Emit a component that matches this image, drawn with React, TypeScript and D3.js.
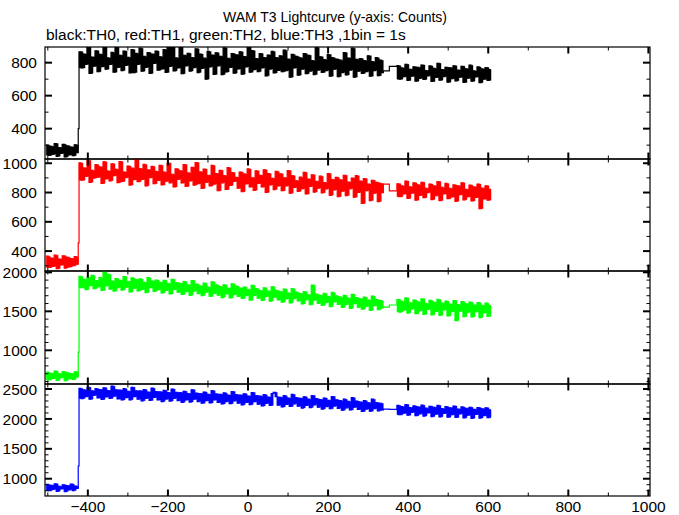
import React from 'react';
import * as d3 from 'd3';

const TITLE = 'WAM T3 Lightcurve (y-axis: Counts)';
const SUBTITLE = 'black:TH0, red:TH1, green:TH2, blue:TH3 ,1bin = 1s';

const X_DOMAIN: [number, number] = [-507, 1004];
const X_MAJOR = [-400, -200, 0, 200, 400, 600, 800, 1000];
const X_MINOR = [-500, -300, -100, 100, 300, 500, 700, 900];

// time layout of the bins (seconds)
const PRE_START = -504;
const SPIKE_START = -424;
const MAIN_START = -422;
const GAP_TIMES = [338, 353];
const POST_START = 372;
const BIN = 5;

// ---- TH0 (black)
const th0Pre = [300, 238, 292, 245, 310, 232, 285, 250, 305, 228, 296, 241, 288, 236, 302, 255];
const th0Spike = 400;
const th0Main = [
  866, 768, 852, 790, 898, 735, 834, 779, 872, 745,
  851, 776, 905, 760, 829, 789, 862, 742, 893, 771,
  845, 752, 870, 784, 832, 738, 879, 740, 856, 790,
  888, 748, 838, 772, 861, 735, 852, 795, 870, 754,
  836, 762, 879, 741, 900, 778, 895, 750, 829, 768,
  910, 733, 845, 781, 857, 749, 831, 770, 884, 740,
  852, 766, 827, 700, 868, 775, 846, 729, 860, 781,
  839, 728, 890, 744, 826, 771, 855, 736, 848, 762,
  866, 730, 837, 775, 905, 742, 873, 758, 825, 746,
  855, 769, 831, 720, 846, 761, 868, 738, 830, 753,
  842, 745, 876, 752, 821, 712, 850, 768, 838, 724,
  829, 760, 855, 733, 845, 749, 812, 728, 892, 755,
  836, 741, 818, 752, 849, 718, 830, 760, 822, 715,
  815, 740, 861, 726, 828, 755, 888, 712, 820, 748,
  825, 735, 812, 746, 842, 718, 806, 752, 830, 721, 815, 740,
];
const th0Gap = [750, 778];
const th0Post = [
  782, 700, 768, 715, 790, 692, 760, 718, 775, 688, 771, 705, 786, 698, 752, 720,
  780, 686, 765, 710, 796, 694, 758, 716, 772, 682, 769, 703, 781, 690, 755, 712,
  778, 680, 763, 706, 785, 688, 750, 714, 774, 679, 762, 700, 770, 692, 758,
];

// ---- TH1 (red)
const th1Pre = [365, 288, 352, 296, 372, 280, 346, 305, 368, 284, 358, 292, 349, 300, 362, 310];
const th1Spike = 456;
const th1Main = [
  1002, 884, 968, 911, 1020, 870, 951, 899, 990, 905,
  975, 862, 1010, 893, 947, 880, 996, 915, 958, 868,
  1012, 876, 940, 902, 981, 851, 966, 888, 1030, 874,
  963, 889, 992, 846, 955, 901, 978, 860, 944, 883,
  986, 852, 939, 877, 1001, 866, 925, 838, 962, 890,
  948, 865, 991, 842, 934, 879, 972, 851, 1005, 860,
  941, 828, 960, 870, 918, 845, 985, 858, 930, 812,
  952, 866, 915, 821, 970, 848, 936, 876, 904, 830,
  940, 806, 927, 859, 961, 838, 901, 815, 948, 862,
  918, 838, 955, 801, 930, 852, 897, 820, 944, 845,
  928, 812, 901, 846, 950, 795, 915, 835, 880, 808,
  905, 826, 938, 790, 892, 842, 921, 803, 877, 830,
  912, 798, 868, 825, 930, 781, 889, 818, 904, 772,
  887, 809, 918, 779, 872, 826, 899, 768, 915, 801,
  878, 725, 895, 812, 858, 745, 884, 795, 870, 738, 862, 800,
];
const th1Gap = [857, 811];
const th1Post = [
  860, 772, 845, 790, 878, 760, 838, 795, 866, 748, 852, 781, 870, 765, 829, 800,
  858, 752, 846, 778, 875, 745, 835, 790, 862, 758, 828, 770, 852, 740, 845, 785,
  866, 750, 822, 772, 850, 742, 838, 766, 858, 690, 830, 756, 846, 748, 822,
];

// ---- TH2 (green)
const th2Pre = [720, 622, 705, 640, 735, 615, 698, 650, 728, 610, 712, 635, 701, 628, 724, 660];
const th2Spike = 978;
const th2Main = [
  1948, 1802, 1911, 1779, 1936, 1828, 1960, 1791, 1894, 1812,
  1931, 1768, 2010, 1826, 1975, 1783, 1887, 1759, 1920, 1804,
  1896, 1772, 1945, 1810, 1881, 1748, 1928, 1795, 1907, 1762,
  1915, 1781, 1870, 1740, 1932, 1802, 1889, 1756, 1901, 1778,
  1872, 1735, 1898, 1768, 1855, 1722, 1910, 1780, 1868, 1745,
  1858, 1716, 1881, 1752, 1840, 1705, 1895, 1760, 1849, 1728,
  1826, 1702, 1862, 1745, 1810, 1690, 1878, 1731, 1838, 1706,
  1818, 1676, 1840, 1722, 1795, 1672, 1852, 1715, 1822, 1690,
  1798, 1665, 1812, 1700, 1780, 1642, 1834, 1705, 1790, 1668,
  1766, 1640, 1801, 1690, 1758, 1630, 1815, 1678, 1770, 1645,
  1752, 1618, 1786, 1660, 1735, 1608, 1790, 1664, 1745, 1632,
  1728, 1595, 1752, 1648, 1712, 1585, 1837, 1642, 1720, 1600,
  1705, 1575, 1730, 1612, 1690, 1560, 1742, 1620, 1698, 1588,
  1682, 1550, 1705, 1590, 1668, 1536, 1718, 1598, 1675, 1552,
  1660, 1528, 1682, 1565, 1645, 1512, 1695, 1572, 1650, 1520, 1638, 1545,
];
const th2Gap = [1555, 1581];
const th2Post = [
  1650, 1490, 1628, 1515, 1672, 1478, 1610, 1532, 1645, 1470, 1620, 1508, 1660, 1462, 1598, 1525,
  1640, 1455, 1615, 1500, 1652, 1448, 1605, 1518, 1630, 1440, 1592, 1495, 1638, 1380, 1585, 1502,
  1625, 1432, 1596, 1488, 1618, 1428, 1580, 1495, 1612, 1420, 1575, 1480, 1605, 1435, 1570,
];

// ---- TH3 (blue)
const th3Pre = [905, 800, 890, 822, 915, 790, 872, 830, 898, 785, 885, 815, 910, 802, 878, 840];
const th3Spike = 1213;
const th3Main = [
  2510, 2340, 2485, 2372, 2530, 2330, 2470, 2395, 2505, 2350,
  2492, 2325, 2520, 2368, 2475, 2342, 2548, 2380, 2488, 2335,
  2480, 2318, 2505, 2356, 2462, 2320, 2530, 2372, 2470, 2330,
  2468, 2302, 2490, 2345, 2450, 2310, 2515, 2360, 2458, 2318,
  2452, 2290, 2478, 2332, 2440, 2298, 2500, 2345, 2445, 2305,
  2440, 2278, 2462, 2318, 2425, 2282, 2488, 2330, 2432, 2290,
  2425, 2262, 2450, 2305, 2412, 2268, 2472, 2318, 2418, 2275,
  2412, 2250, 2435, 2290, 2398, 2255, 2458, 2302, 2405, 2262,
  2398, 2235, 2420, 2276, 2382, 2240, 2442, 2288, 2390, 2246,
  2380, 2218, 2405, 2260, 2365, 2225, 2425, 2445, 2372, 2230,
  2362, 2200, 2388, 2242, 2348, 2208, 2410, 2252, 2355, 2212,
  2345, 2182, 2370, 2225, 2330, 2190, 2392, 2235, 2338, 2195,
  2325, 2165, 2350, 2205, 2312, 2170, 2375, 2215, 2320, 2178,
  2305, 2145, 2330, 2185, 2292, 2150, 2355, 2195, 2298, 2158,
  2282, 2125, 2305, 2165, 2270, 2128, 2330, 2170, 2275, 2135, 2260, 2150,
];
const th3Gap = [2165, 2160];
const th3Post = [
  2225, 2070, 2205, 2095, 2240, 2062, 2190, 2110, 2218, 2055, 2200, 2085, 2230, 2048, 2180, 2100,
  2212, 2040, 2195, 2078, 2225, 2035, 2172, 2092, 2205, 2030, 2185, 2070, 2215, 2025, 2165, 2085,
  2200, 2018, 2178, 2062, 2195, 2010, 2160, 2075, 2190, 2015, 2170, 2055, 2185, 2020, 2150,
];

// panel axes
const Y_DOMAINS: [number, number][] = [[216, 895], [264, 1029], [568, 2017], [711, 2584]];
const Y_MAJOR = [[400, 600, 800], [400, 600, 800, 1000], [1000, 1500, 2000], [1000, 1500, 2000, 2500]];
const Y_MINOR_STEP = [100, 100, 100, 100];
const COLORS = ['#000000', '#ff0000', '#00ff00', '#0000ff'];

type Pt = { t: number; v: number };
type Env = { t: number; lo: number; hi: number };

type Channel = { pre: number[]; spike: number; main: number[]; gap: number[]; post: number[] };

const CHANNELS: Channel[] = [
  { pre: th0Pre, spike: th0Spike, main: th0Main, gap: th0Gap, post: th0Post },
  { pre: th1Pre, spike: th1Spike, main: th1Main, gap: th1Gap, post: th1Post },
  { pre: th2Pre, spike: th2Spike, main: th2Main, gap: th2Gap, post: th2Post },
  { pre: th3Pre, spike: th3Spike, main: th3Main, gap: th3Gap, post: th3Post },
];

function fullLine(c: Channel): Pt[] {
  const pts: Pt[] = [];
  c.pre.forEach((v, i) => pts.push({ t: PRE_START + i * BIN, v }));
  pts.push({ t: SPIKE_START, v: c.spike });
  c.main.forEach((v, i) => pts.push({ t: MAIN_START + i * BIN, v }));
  c.gap.forEach((v, i) => pts.push({ t: GAP_TIMES[i], v }));
  c.post.forEach((v, i) => pts.push({ t: POST_START + i * BIN, v }));
  pts.push({ t: POST_START + c.post.length * BIN, v: c.post[c.post.length - 1] });
  return pts;
}

// column envelope: each column spans the bin and the transition from its predecessor
function envelope(vals: number[], start: number, end: number): Env[] {
  const out: Env[] = vals.map((v, i) => {
    const prev = i > 0 ? vals[i - 1] : vals[i + 1];
    return { t: start + i * BIN, lo: Math.min(prev, v), hi: Math.max(prev, v) };
  });
  out.push({ t: end, lo: out[out.length - 1].lo, hi: out[out.length - 1].hi });
  return out;
}

function envelopes(c: Channel): Env[][] {
  return [
    envelope(c.pre, PRE_START, SPIKE_START),
    envelope(c.main, MAIN_START, MAIN_START + c.main.length * BIN),
    envelope(c.post, POST_START, POST_START + c.post.length * BIN),
  ];
}

const W = 679;
const H = 515;
const LEFT = 45;
const RIGHT = 650;
const PANEL_EDGES = [47, 159, 271, 384, 496];
const FONT = "'Liberation Sans', Arial, Helvetica, sans-serif";

export default function App() {
  const x = d3.scaleLinear().domain(X_DOMAIN).range([LEFT, RIGHT]);

  return (
    <svg width={W} height={H} style={{ position: 'absolute', left: 0, top: 0, background: '#fff' }}
      xmlns="http://www.w3.org/2000/svg">
      <rect x={0} y={0} width={W} height={H} fill="#fff" />
      <text x={335} y={22} textAnchor="middle" fontFamily={FONT} fontSize={14}>{TITLE}</text>
      <text x={46} y={40} fontFamily={FONT} fontSize={15.5}>{SUBTITLE}</text>
      <defs>
        {CHANNELS.map((_, p) => (
          <clipPath id={`clip${p}`} key={p}>
            <rect x={LEFT} y={PANEL_EDGES[p]} width={RIGHT - LEFT} height={PANEL_EDGES[p + 1] - PANEL_EDGES[p]} />
          </clipPath>
        ))}
      </defs>
      {CHANNELS.map((ch, p) => {
        const top = PANEL_EDGES[p];
        const bottom = PANEL_EDGES[p + 1];
        const y = d3.scaleLinear().domain(Y_DOMAINS[p]).range([bottom, top]);
        const line = d3.line<Pt>().x(d => x(d.t)).y(d => y(d.v)).curve(d3.curveStepAfter);
        const area = d3.area<Env>().x(d => x(d.t)).y0(d => y(d.lo)).y1(d => y(d.hi)).curve(d3.curveStepAfter);
        const [y0, y1] = Y_DOMAINS[p];
        const minor = d3.range(Math.ceil(y0 / Y_MINOR_STEP[p]) * Y_MINOR_STEP[p], y1, Y_MINOR_STEP[p])
          .filter(v => !Y_MAJOR[p].includes(v));
        return (
          <g key={p}>
            <g clipPath={`url(#clip${p})`}>
              {envelopes(ch).map((seg, k) => (
                <path key={k} d={area(seg) || ''} fill={COLORS[p]} stroke={COLORS[p]} strokeWidth={0.4} />
              ))}
              <path d={line(fullLine(ch)) || ''} fill="none" stroke={COLORS[p]} strokeWidth={1.2} />
            </g>
            <rect x={LEFT} y={top} width={RIGHT - LEFT} height={bottom - top} fill="none" stroke="#000" strokeWidth={1.2} />
            {X_MAJOR.map(t => (
              <g key={`xm${t}`}>
                <line x1={x(t)} x2={x(t)} y1={top} y2={top + 6.5} stroke="#000" strokeWidth={2} />
                <line x1={x(t)} x2={x(t)} y1={bottom} y2={bottom - 6.5} stroke="#000" strokeWidth={2} />
              </g>
            ))}
            {X_MINOR.map(t => (
              <g key={`xn${t}`}>
                <line x1={x(t)} x2={x(t)} y1={top} y2={top + 3.5} stroke="#000" strokeWidth={1} />
                <line x1={x(t)} x2={x(t)} y1={bottom} y2={bottom - 3.5} stroke="#000" strokeWidth={1} />
              </g>
            ))}
            {Y_MAJOR[p].map(v => (
              <g key={`ym${v}`}>
                <line x1={LEFT} x2={LEFT + 7} y1={y(v)} y2={y(v)} stroke="#000" strokeWidth={2} />
                <line x1={RIGHT} x2={RIGHT - 7} y1={y(v)} y2={y(v)} stroke="#000" strokeWidth={2} />
                <text x={37} y={y(v)} dy="0.36em" textAnchor="end" fontFamily={FONT} fontSize={15.5}>{v}</text>
              </g>
            ))}
            {minor.map(v => (
              <g key={`yn${v}`}>
                <line x1={LEFT} x2={LEFT + 3.5} y1={y(v)} y2={y(v)} stroke="#000" strokeWidth={1} />
                <line x1={RIGHT} x2={RIGHT - 3.5} y1={y(v)} y2={y(v)} stroke="#000" strokeWidth={1} />
              </g>
            ))}
          </g>
        );
      })}
      {X_MAJOR.map(t => (
        <text key={`xl${t}`} x={x(t)} y={512} textAnchor="middle" fontFamily={FONT} fontSize={15.5}>
          {d3.format('')(t).replace('-', '\u2212')}
        </text>
      ))}
    </svg>
  );
}
